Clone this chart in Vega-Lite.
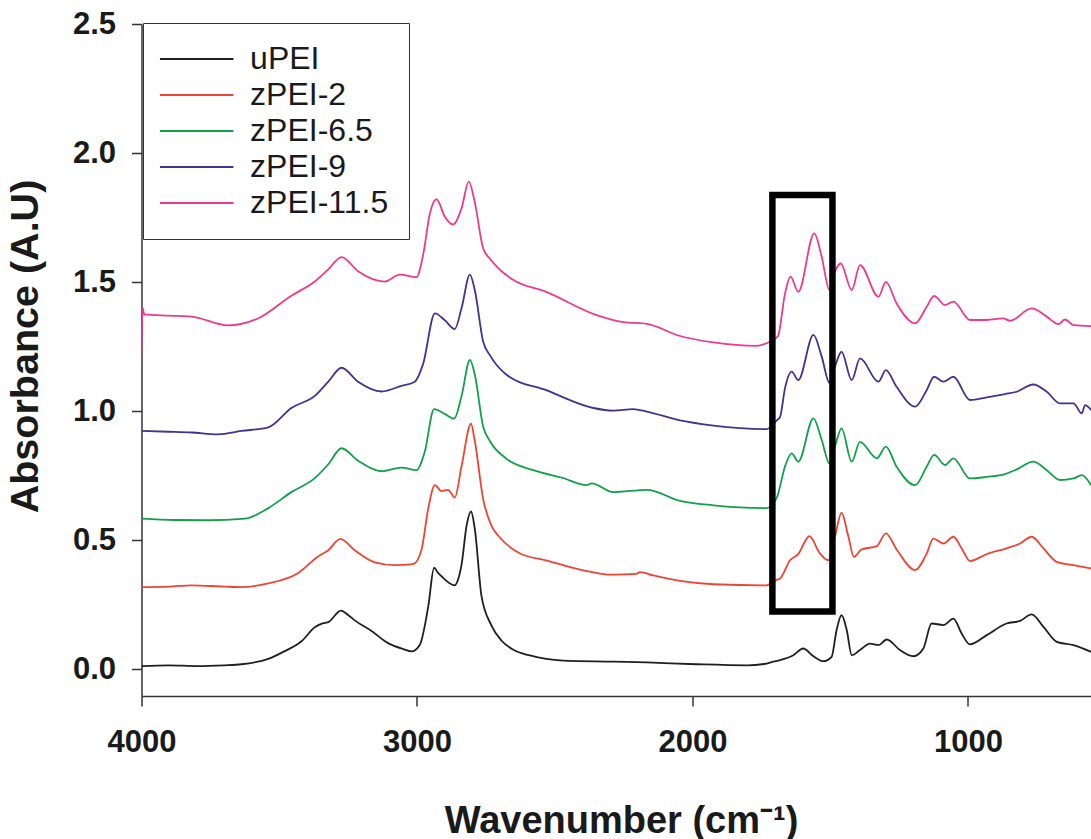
{
  "$schema": "https://vega.github.io/schema/vega-lite/v6.json",
  "width": 949.5,
  "height": 672,
  "autosize": {"type": "none"},
  "padding": {"left": 141.5, "top": 24, "right": 0, "bottom": 143},
  "background": "white",
  "config": {"view": {"stroke": null}, "font": "Liberation Sans", "legend": {"strokeColor": "#333333"}},
  "datasets": {
    "spectra": [
      {"s":"uPEI","wn":4000,"a":0.012},{"s":"uPEI","wn":3900,"a":0.015},{"s":"uPEI","wn":3800,"a":0.012},{"s":"uPEI","wn":3700,"a":0.015},{"s":"uPEI","wn":3637,"a":0.019},{"s":"uPEI","wn":3540,"a":0.04},{"s":"uPEI","wn":3480,"a":0.07},{"s":"uPEI","wn":3419,"a":0.108},{"s":"uPEI","wn":3371,"a":0.162},{"s":"uPEI","wn":3340,"a":0.178},{"s":"uPEI","wn":3322,"a":0.182},{"s":"uPEI","wn":3276,"a":0.227},{"s":"uPEI","wn":3250,"a":0.21},{"s":"uPEI","wn":3226,"a":0.189},{"s":"uPEI","wn":3165,"a":0.148},{"s":"uPEI","wn":3105,"a":0.101},{"s":"uPEI","wn":3050,"a":0.078},{"s":"uPEI","wn":3020,"a":0.069},{"s":"uPEI","wn":2990,"a":0.094},{"s":"uPEI","wn":2959,"a":0.244},{"s":"uPEI","wn":2938,"a":0.393},{"s":"uPEI","wn":2925,"a":0.375},{"s":"uPEI","wn":2911,"a":0.36},{"s":"uPEI","wn":2863,"a":0.325},{"s":"uPEI","wn":2850,"a":0.35},{"s":"uPEI","wn":2838,"a":0.407},{"s":"uPEI","wn":2820,"a":0.556},{"s":"uPEI","wn":2804,"a":0.611},{"s":"uPEI","wn":2790,"a":0.543},{"s":"uPEI","wn":2766,"a":0.284},{"s":"uPEI","wn":2730,"a":0.17},{"s":"uPEI","wn":2693,"a":0.11},{"s":"uPEI","wn":2650,"a":0.075},{"s":"uPEI","wn":2590,"a":0.053},{"s":"uPEI","wn":2469,"a":0.033},{"s":"uPEI","wn":2287,"a":0.029},{"s":"uPEI","wn":2166,"a":0.026},{"s":"uPEI","wn":1985,"a":0.019},{"s":"uPEI","wn":1803,"a":0.015},{"s":"uPEI","wn":1740,"a":0.02},{"s":"uPEI","wn":1706,"a":0.029},{"s":"uPEI","wn":1682,"a":0.035},{"s":"uPEI","wn":1634,"a":0.054},{"s":"uPEI","wn":1598,"a":0.08},{"s":"uPEI","wn":1561,"a":0.05},{"s":"uPEI","wn":1525,"a":0.031},{"s":"uPEI","wn":1495,"a":0.048},{"s":"uPEI","wn":1477,"a":0.151},{"s":"uPEI","wn":1459,"a":0.209},{"s":"uPEI","wn":1440,"a":0.151},{"s":"uPEI","wn":1422,"a":0.054},{"s":"uPEI","wn":1392,"a":0.074},{"s":"uPEI","wn":1356,"a":0.099},{"s":"uPEI","wn":1325,"a":0.093},{"s":"uPEI","wn":1295,"a":0.115},{"s":"uPEI","wn":1247,"a":0.074},{"s":"uPEI","wn":1198,"a":0.05},{"s":"uPEI","wn":1162,"a":0.08},{"s":"uPEI","wn":1132,"a":0.177},{"s":"uPEI","wn":1089,"a":0.171},{"s":"uPEI","wn":1053,"a":0.196},{"s":"uPEI","wn":1023,"a":0.138},{"s":"uPEI","wn":993,"a":0.096},{"s":"uPEI","wn":932,"a":0.132},{"s":"uPEI","wn":860,"a":0.177},{"s":"uPEI","wn":811,"a":0.187},{"s":"uPEI","wn":769,"a":0.212},{"s":"uPEI","wn":726,"a":0.164},{"s":"uPEI","wn":678,"a":0.106},{"s":"uPEI","wn":617,"a":0.093},{"s":"uPEI","wn":553,"a":0.067},

      {"s":"zPEI-2","wn":4000,"a":0.318},{"s":"zPEI-2","wn":3900,"a":0.32},{"s":"zPEI-2","wn":3818,"a":0.325},{"s":"zPEI-2","wn":3700,"a":0.32},{"s":"zPEI-2","wn":3637,"a":0.318},{"s":"zPEI-2","wn":3540,"a":0.332},{"s":"zPEI-2","wn":3431,"a":0.373},{"s":"zPEI-2","wn":3359,"a":0.437},{"s":"zPEI-2","wn":3322,"a":0.461},{"s":"zPEI-2","wn":3278,"a":0.505},{"s":"zPEI-2","wn":3226,"a":0.461},{"s":"zPEI-2","wn":3153,"a":0.414},{"s":"zPEI-2","wn":3081,"a":0.403},{"s":"zPEI-2","wn":3014,"a":0.407},{"s":"zPEI-2","wn":2984,"a":0.461},{"s":"zPEI-2","wn":2959,"a":0.624},{"s":"zPEI-2","wn":2935,"a":0.713},{"s":"zPEI-2","wn":2911,"a":0.69},{"s":"zPEI-2","wn":2887,"a":0.695},{"s":"zPEI-2","wn":2863,"a":0.665},{"s":"zPEI-2","wn":2838,"a":0.788},{"s":"zPEI-2","wn":2804,"a":0.951},{"s":"zPEI-2","wn":2790,"a":0.883},{"s":"zPEI-2","wn":2760,"a":0.66},{"s":"zPEI-2","wn":2730,"a":0.556},{"s":"zPEI-2","wn":2699,"a":0.51},{"s":"zPEI-2","wn":2626,"a":0.448},{"s":"zPEI-2","wn":2529,"a":0.421},{"s":"zPEI-2","wn":2408,"a":0.386},{"s":"zPEI-2","wn":2287,"a":0.366},{"s":"zPEI-2","wn":2203,"a":0.369},{"s":"zPEI-2","wn":2191,"a":0.376},{"s":"zPEI-2","wn":2142,"a":0.363},{"s":"zPEI-2","wn":2045,"a":0.342},{"s":"zPEI-2","wn":1924,"a":0.329},{"s":"zPEI-2","wn":1731,"a":0.325},{"s":"zPEI-2","wn":1694,"a":0.346},{"s":"zPEI-2","wn":1682,"a":0.351},{"s":"zPEI-2","wn":1646,"a":0.422},{"s":"zPEI-2","wn":1616,"a":0.446},{"s":"zPEI-2","wn":1576,"a":0.515},{"s":"zPEI-2","wn":1537,"a":0.448},{"s":"zPEI-2","wn":1507,"a":0.422},{"s":"zPEI-2","wn":1483,"a":0.513},{"s":"zPEI-2","wn":1459,"a":0.606},{"s":"zPEI-2","wn":1434,"a":0.513},{"s":"zPEI-2","wn":1414,"a":0.435},{"s":"zPEI-2","wn":1386,"a":0.464},{"s":"zPEI-2","wn":1331,"a":0.477},{"s":"zPEI-2","wn":1298,"a":0.526},{"s":"zPEI-2","wn":1259,"a":0.464},{"s":"zPEI-2","wn":1192,"a":0.384},{"s":"zPEI-2","wn":1150,"a":0.448},{"s":"zPEI-2","wn":1126,"a":0.506},{"s":"zPEI-2","wn":1089,"a":0.487},{"s":"zPEI-2","wn":1053,"a":0.513},{"s":"zPEI-2","wn":1023,"a":0.468},{"s":"zPEI-2","wn":993,"a":0.419},{"s":"zPEI-2","wn":932,"a":0.446},{"s":"zPEI-2","wn":860,"a":0.468},{"s":"zPEI-2","wn":811,"a":0.487},{"s":"zPEI-2","wn":769,"a":0.513},{"s":"zPEI-2","wn":726,"a":0.468},{"s":"zPEI-2","wn":678,"a":0.416},{"s":"zPEI-2","wn":617,"a":0.403},{"s":"zPEI-2","wn":553,"a":0.39},

      {"s":"zPEI-6.5","wn":4000,"a":0.583},{"s":"zPEI-6.5","wn":3880,"a":0.578},{"s":"zPEI-6.5","wn":3758,"a":0.577},{"s":"zPEI-6.5","wn":3625,"a":0.583},{"s":"zPEI-6.5","wn":3540,"a":0.624},{"s":"zPEI-6.5","wn":3456,"a":0.686},{"s":"zPEI-6.5","wn":3371,"a":0.74},{"s":"zPEI-6.5","wn":3322,"a":0.794},{"s":"zPEI-6.5","wn":3274,"a":0.856},{"s":"zPEI-6.5","wn":3214,"a":0.808},{"s":"zPEI-6.5","wn":3129,"a":0.767},{"s":"zPEI-6.5","wn":3056,"a":0.781},{"s":"zPEI-6.5","wn":3002,"a":0.771},{"s":"zPEI-6.5","wn":2972,"a":0.842},{"s":"zPEI-6.5","wn":2938,"a":1.008},{"s":"zPEI-6.5","wn":2899,"a":0.989},{"s":"zPEI-6.5","wn":2865,"a":0.971},{"s":"zPEI-6.5","wn":2838,"a":1.06},{"s":"zPEI-6.5","wn":2808,"a":1.198},{"s":"zPEI-6.5","wn":2790,"a":1.141},{"s":"zPEI-6.5","wn":2760,"a":0.94},{"s":"zPEI-6.5","wn":2735,"a":0.883},{"s":"zPEI-6.5","wn":2675,"a":0.815},{"s":"zPEI-6.5","wn":2578,"a":0.771},{"s":"zPEI-6.5","wn":2469,"a":0.74},{"s":"zPEI-6.5","wn":2384,"a":0.713},{"s":"zPEI-6.5","wn":2366,"a":0.72},{"s":"zPEI-6.5","wn":2287,"a":0.686},{"s":"zPEI-6.5","wn":2166,"a":0.695},{"s":"zPEI-6.5","wn":2045,"a":0.652},{"s":"zPEI-6.5","wn":1924,"a":0.635},{"s":"zPEI-6.5","wn":1731,"a":0.624},{"s":"zPEI-6.5","wn":1694,"a":0.665},{"s":"zPEI-6.5","wn":1664,"a":0.786},{"s":"zPEI-6.5","wn":1640,"a":0.836},{"s":"zPEI-6.5","wn":1616,"a":0.804},{"s":"zPEI-6.5","wn":1561,"a":0.972},{"s":"zPEI-6.5","wn":1531,"a":0.888},{"s":"zPEI-6.5","wn":1503,"a":0.797},{"s":"zPEI-6.5","wn":1483,"a":0.862},{"s":"zPEI-6.5","wn":1459,"a":0.933},{"s":"zPEI-6.5","wn":1422,"a":0.804},{"s":"zPEI-6.5","wn":1392,"a":0.881},{"s":"zPEI-6.5","wn":1331,"a":0.817},{"s":"zPEI-6.5","wn":1298,"a":0.862},{"s":"zPEI-6.5","wn":1259,"a":0.784},{"s":"zPEI-6.5","wn":1192,"a":0.713},{"s":"zPEI-6.5","wn":1150,"a":0.784},{"s":"zPEI-6.5","wn":1123,"a":0.83},{"s":"zPEI-6.5","wn":1083,"a":0.791},{"s":"zPEI-6.5","wn":1053,"a":0.817},{"s":"zPEI-6.5","wn":993,"a":0.739},{"s":"zPEI-6.5","wn":932,"a":0.745},{"s":"zPEI-6.5","wn":866,"a":0.756},{"s":"zPEI-6.5","wn":823,"a":0.774},{"s":"zPEI-6.5","wn":763,"a":0.804},{"s":"zPEI-6.5","wn":714,"a":0.771},{"s":"zPEI-6.5","wn":666,"a":0.733},{"s":"zPEI-6.5","wn":617,"a":0.739},{"s":"zPEI-6.5","wn":587,"a":0.752},{"s":"zPEI-6.5","wn":553,"a":0.713},

      {"s":"zPEI-9","wn":4000,"a":0.923},{"s":"zPEI-9","wn":3900,"a":0.92},{"s":"zPEI-9","wn":3818,"a":0.917},{"s":"zPEI-9","wn":3722,"a":0.91},{"s":"zPEI-9","wn":3637,"a":0.923},{"s":"zPEI-9","wn":3540,"a":0.937},{"s":"zPEI-9","wn":3456,"a":1.012},{"s":"zPEI-9","wn":3371,"a":1.059},{"s":"zPEI-9","wn":3322,"a":1.114},{"s":"zPEI-9","wn":3274,"a":1.168},{"s":"zPEI-9","wn":3214,"a":1.114},{"s":"zPEI-9","wn":3129,"a":1.076},{"s":"zPEI-9","wn":3056,"a":1.098},{"s":"zPEI-9","wn":3008,"a":1.114},{"s":"zPEI-9","wn":2978,"a":1.182},{"s":"zPEI-9","wn":2935,"a":1.379},{"s":"zPEI-9","wn":2899,"a":1.352},{"s":"zPEI-9","wn":2863,"a":1.318},{"s":"zPEI-9","wn":2838,"a":1.4},{"s":"zPEI-9","wn":2808,"a":1.529},{"s":"zPEI-9","wn":2790,"a":1.468},{"s":"zPEI-9","wn":2760,"a":1.27},{"s":"zPEI-9","wn":2735,"a":1.216},{"s":"zPEI-9","wn":2675,"a":1.141},{"s":"zPEI-9","wn":2529,"a":1.08},{"s":"zPEI-9","wn":2360,"a":1.012},{"s":"zPEI-9","wn":2287,"a":1.002},{"s":"zPEI-9","wn":2215,"a":1.008},{"s":"zPEI-9","wn":2166,"a":0.998},{"s":"zPEI-9","wn":2045,"a":0.964},{"s":"zPEI-9","wn":1924,"a":0.944},{"s":"zPEI-9","wn":1731,"a":0.93},{"s":"zPEI-9","wn":1694,"a":0.964},{"s":"zPEI-9","wn":1682,"a":0.978},{"s":"zPEI-9","wn":1664,"a":1.09},{"s":"zPEI-9","wn":1640,"a":1.153},{"s":"zPEI-9","wn":1616,"a":1.12},{"s":"zPEI-9","wn":1561,"a":1.295},{"s":"zPEI-9","wn":1531,"a":1.211},{"s":"zPEI-9","wn":1503,"a":1.11},{"s":"zPEI-9","wn":1483,"a":1.172},{"s":"zPEI-9","wn":1459,"a":1.23},{"s":"zPEI-9","wn":1422,"a":1.12},{"s":"zPEI-9","wn":1392,"a":1.204},{"s":"zPEI-9","wn":1325,"a":1.114},{"s":"zPEI-9","wn":1298,"a":1.159},{"s":"zPEI-9","wn":1259,"a":1.094},{"s":"zPEI-9","wn":1192,"a":1.017},{"s":"zPEI-9","wn":1150,"a":1.081},{"s":"zPEI-9","wn":1123,"a":1.133},{"s":"zPEI-9","wn":1089,"a":1.114},{"s":"zPEI-9","wn":1053,"a":1.133},{"s":"zPEI-9","wn":993,"a":1.043},{"s":"zPEI-9","wn":932,"a":1.053},{"s":"zPEI-9","wn":866,"a":1.066},{"s":"zPEI-9","wn":823,"a":1.075},{"s":"zPEI-9","wn":763,"a":1.103},{"s":"zPEI-9","wn":714,"a":1.075},{"s":"zPEI-9","wn":666,"a":1.03},{"s":"zPEI-9","wn":617,"a":1.03},{"s":"zPEI-9","wn":587,"a":0.991},{"s":"zPEI-9","wn":575,"a":1.023},{"s":"zPEI-9","wn":553,"a":1.004},

      {"s":"zPEI-11.5","wn":4000,"a":1.22},{"s":"zPEI-11.5","wn":3996,"a":1.4},{"s":"zPEI-11.5","wn":3990,"a":1.375},{"s":"zPEI-11.5","wn":3900,"a":1.37},{"s":"zPEI-11.5","wn":3818,"a":1.366},{"s":"zPEI-11.5","wn":3685,"a":1.332},{"s":"zPEI-11.5","wn":3577,"a":1.359},{"s":"zPEI-11.5","wn":3456,"a":1.447},{"s":"zPEI-11.5","wn":3371,"a":1.502},{"s":"zPEI-11.5","wn":3322,"a":1.549},{"s":"zPEI-11.5","wn":3274,"a":1.597},{"s":"zPEI-11.5","wn":3214,"a":1.542},{"s":"zPEI-11.5","wn":3117,"a":1.502},{"s":"zPEI-11.5","wn":3062,"a":1.529},{"s":"zPEI-11.5","wn":3002,"a":1.519},{"s":"zPEI-11.5","wn":2978,"a":1.604},{"s":"zPEI-11.5","wn":2953,"a":1.767},{"s":"zPEI-11.5","wn":2929,"a":1.821},{"s":"zPEI-11.5","wn":2899,"a":1.753},{"s":"zPEI-11.5","wn":2869,"a":1.723},{"s":"zPEI-11.5","wn":2838,"a":1.787},{"s":"zPEI-11.5","wn":2812,"a":1.889},{"s":"zPEI-11.5","wn":2790,"a":1.808},{"s":"zPEI-11.5","wn":2760,"a":1.631},{"s":"zPEI-11.5","wn":2735,"a":1.59},{"s":"zPEI-11.5","wn":2693,"a":1.542},{"s":"zPEI-11.5","wn":2650,"a":1.508},{"s":"zPEI-11.5","wn":2529,"a":1.461},{"s":"zPEI-11.5","wn":2348,"a":1.372},{"s":"zPEI-11.5","wn":2251,"a":1.345},{"s":"zPEI-11.5","wn":2166,"a":1.338},{"s":"zPEI-11.5","wn":2045,"a":1.291},{"s":"zPEI-11.5","wn":1924,"a":1.266},{"s":"zPEI-11.5","wn":1767,"a":1.253},{"s":"zPEI-11.5","wn":1725,"a":1.266},{"s":"zPEI-11.5","wn":1690,"a":1.29},{"s":"zPEI-11.5","wn":1664,"a":1.456},{"s":"zPEI-11.5","wn":1644,"a":1.521},{"s":"zPEI-11.5","wn":1616,"a":1.462},{"s":"zPEI-11.5","wn":1558,"a":1.689},{"s":"zPEI-11.5","wn":1531,"a":1.598},{"s":"zPEI-11.5","wn":1503,"a":1.469},{"s":"zPEI-11.5","wn":1483,"a":1.54},{"s":"zPEI-11.5","wn":1462,"a":1.572},{"s":"zPEI-11.5","wn":1422,"a":1.469},{"s":"zPEI-11.5","wn":1392,"a":1.566},{"s":"zPEI-11.5","wn":1325,"a":1.443},{"s":"zPEI-11.5","wn":1298,"a":1.501},{"s":"zPEI-11.5","wn":1259,"a":1.417},{"s":"zPEI-11.5","wn":1192,"a":1.34},{"s":"zPEI-11.5","wn":1150,"a":1.404},{"s":"zPEI-11.5","wn":1123,"a":1.446},{"s":"zPEI-11.5","wn":1083,"a":1.411},{"s":"zPEI-11.5","wn":1053,"a":1.424},{"s":"zPEI-11.5","wn":993,"a":1.353},{"s":"zPEI-11.5","wn":932,"a":1.353},{"s":"zPEI-11.5","wn":872,"a":1.359},{"s":"zPEI-11.5","wn":847,"a":1.35},{"s":"zPEI-11.5","wn":769,"a":1.398},{"s":"zPEI-11.5","wn":714,"a":1.366},{"s":"zPEI-11.5","wn":672,"a":1.337},{"s":"zPEI-11.5","wn":648,"a":1.355},{"s":"zPEI-11.5","wn":617,"a":1.333},{"s":"zPEI-11.5","wn":553,"a":1.329}
    ],
    "box": [{"x1": 1710, "x2": 1492, "y1": 1.837, "y2": 0.223}]
  },
  "layer": [
    {
      "data": {"name": "spectra"},
      "mark": {"type": "line", "interpolate": "monotone", "strokeWidth": 1.8, "clip": true},
      "encoding": {
        "x": {
          "field": "wn", "type": "quantitative",
          "scale": {"domain": [553.5, 4000], "reverse": true, "nice": false, "zero": false},
          "axis": {
            "values": [4000, 3000, 2000, 1000], "format": "d",
            "title": "Wavenumber (cm⁻¹)",
            "titleFont": "Liberation Sans", "titleFontSize": 38, "titleFontWeight": "bold", "titleColor": "#1a1a1a",
            "titleX": 479.5, "titleY": 136, "titleAlign": "center", "titleBaseline": "alphabetic",
            "labelFont": "Liberation Sans", "labelFontSize": 31, "labelFontWeight": "bold", "labelColor": "#1a1a1a",
            "labelPadding": 21, "labelFlush": false, "labelOverlap": false,
            "tickSize": 10, "tickWidth": 1.5, "tickColor": "#333333",
            "domainColor": "#333333", "domainWidth": 1.5, "grid": false
          }
        },
        "y": {
          "field": "a", "type": "quantitative",
          "scale": {"domain": [-0.104, 2.5], "nice": false, "zero": false},
          "axis": {
            "values": [0, 0.5, 1, 1.5, 2, 2.5], "format": ".1f",
            "title": "Absorbance (A.U)",
            "titleFont": "Liberation Sans", "titleFontSize": 39.5, "titleFontWeight": "bold", "titleColor": "#1a1a1a",
            "titleX": -104, "titleY": 322, "titleAngle": -90, "titleAlign": "center", "titleBaseline": "alphabetic",
            "labelFont": "Liberation Sans", "labelFontSize": 31, "labelFontWeight": "bold", "labelColor": "#1a1a1a",
            "labelPadding": 16, "labelFlush": false, "labelOverlap": false,
            "tickSize": 10, "tickWidth": 1.5, "tickColor": "#333333",
            "domainColor": "#333333", "domainWidth": 1.5, "grid": false
          }
        },
        "color": {
          "field": "s", "type": "nominal",
          "scale": {
            "domain": ["uPEI", "zPEI-2", "zPEI-6.5", "zPEI-9", "zPEI-11.5"],
            "range": ["#1f1f1f", "#ee4433", "#12a14b", "#45318f", "#ec3a90"]
          },
          "legend": {
            "orient": "none", "legendX": 1.5, "legendY": -1, "direction": "vertical", "title": null,
            "symbolType": "M-10,0H10", "symbolSize": 54, "symbolStrokeWidth": 1.8, "symbolOffset": 17.7,
            "labelFont": "Liberation Sans", "labelFontSize": 32, "labelColor": "#1a1a1a", "labelOffset": 37.4, "labelLimit": 300,
            "rowPadding": 4, "padding": 20,
            "strokeColor": "#333333", "fillColor": "white"
          }
        }
      }
    },
    {
      "data": {"name": "box"},
      "mark": {"type": "rect", "filled": false, "stroke": "black", "strokeWidth": 6.5},
      "encoding": {
        "x": {"field": "x1", "type": "quantitative"},
        "x2": {"field": "x2"},
        "y": {"field": "y1", "type": "quantitative"},
        "y2": {"field": "y2"}
      }
    }
  ]
}
